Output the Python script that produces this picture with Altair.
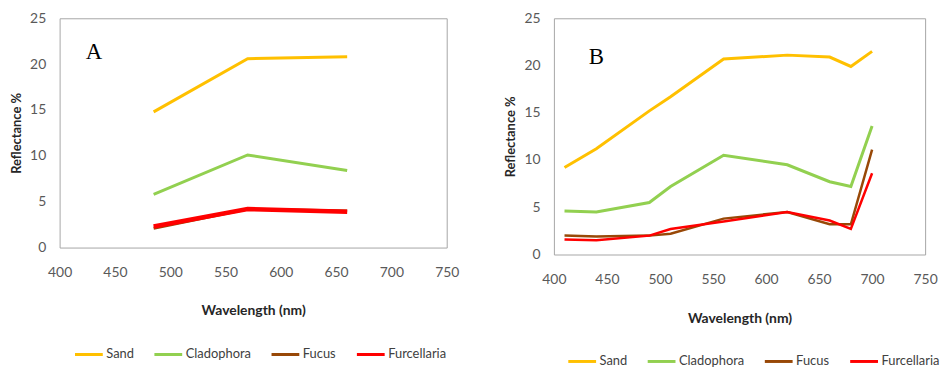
import altair as alt
import pandas as pd

series = ["Sand", "Cladophora", "Fucus", "Furcellaria"]
colors = ["#FFC000", "#92D050", "#984807", "#FF0000"]

x_ticks = [400, 450, 500, 550, 600, 650, 700, 750]
y_ticks = [0, 5, 10, 15, 20, 25]

# Panel A
wl_a = [485, 570, 660]
sand_a = [14.8, 20.6, 20.8]
clado_a = [5.8, 10.1, 8.4]
fucus_a = [2.1, 4.2, 4.0]
furc_a = [2.3, 4.2, 3.9]

# Panel B
wl_b = [410, 440, 490, 510, 560, 620, 660, 680, 700]
sand_b = [9.2, 11.2, 15.2, 16.7, 20.7, 21.1, 20.9, 19.9, 21.5]
clado_b = [4.6, 4.5, 5.5, 7.2, 10.5, 9.5, 7.7, 7.2, 13.6]
fucus_b = [2.0, 1.9, 2.0, 2.2, 3.8, 4.5, 3.2, 3.2, 11.1]
furc_b = [1.6, 1.5, 2.0, 2.7, 3.5, 4.5, 3.6, 2.7, 8.6]

panel_labels = ["A", "B"]
label_x = [431, 440]
label_y = [21.3, 20.9]

LABEL_FONT = "Lato"


def long_df(wl, vals):
    rows = []
    for name, v in zip(series, vals):
        for w, r in zip(wl, v):
            rows.append({"wl": w, "ref": r, "series": name})
    return pd.DataFrame(rows)


def panel(wl, vals, idx, w, h, widths, leg_x, leg_y, title_pad):
    df = long_df(wl, vals)
    x = alt.X("wl:Q", scale=alt.Scale(domain=[400, 750], nice=False),
              axis=alt.Axis(values=x_ticks, title="Wavelength (nm)", titlePadding=title_pad,
                            labelFlush=False))
    y = alt.Y("ref:Q", scale=alt.Scale(domain=[0, 25], nice=False),
              axis=alt.Axis(values=y_ticks, title="Reflectance %", titlePadding=6))
    color = alt.Color(
        "series:N",
        scale=alt.Scale(domain=series, range=colors),
        legend=alt.Legend(
            title=None, orient="none", legendX=leg_x, legendY=leg_y,
            direction="horizontal", columns=4, symbolType="stroke",
            symbolSize=784, symbolStrokeWidth=3, labelFont=LABEL_FONT,
            labelFontSize=13, labelColor="#404040", columnPadding=14,
            labelOffset=2, padding=0,
        ),
    )
    layers = []
    for name, sw in zip(series, widths):
        layers.append(
            alt.Chart(df[df.series == name]).mark_line(strokeWidth=sw).encode(
                x=x, y=y, color=color
            )
        )
    lab = pd.DataFrame({"t": [panel_labels[idx]], "x": [label_x[idx]], "y": [label_y[idx]]})
    text = alt.Chart(lab).mark_text(font="Liberation Serif", fontSize=23, color="#000000").encode(
        x="x:Q", y="y:Q", text="t:N"
    )
    return alt.layer(*layers, text).properties(width=w, height=h)


a = panel(wl_a, [sand_a, clado_a, fucus_a, furc_a], 0, 390, 231, [3, 3, 3, 4.5], 14, 323, 24)
b = panel(wl_b, [sand_b, clado_b, fucus_b, furc_b], 1, 374, 238, [3, 3, 2.5, 2.5], 13, 330, 26)

chart = alt.hconcat(a, b, spacing=108, bounds="flush").resolve_scale(
    color="independent"
).resolve_legend(color="independent").properties(
    padding={"left": 2, "top": 1, "right": 0, "bottom": 0}
).configure_view(stroke="#A6A6A6", strokeWidth=1).configure_axis(
    grid=False, ticks=False, domain=False,
    labelFont=LABEL_FONT, labelFontSize=14, labelColor="#595959",
    titleFont=LABEL_FONT, titleFontSize=13, titleFontWeight="bold", titleColor="#262626",
).configure_axisY(labelPadding=14).configure_axisX(labelPadding=18, titleFontSize=14)

chart.save("out.html", embed_options={"renderer": "svg", "actions": False})
